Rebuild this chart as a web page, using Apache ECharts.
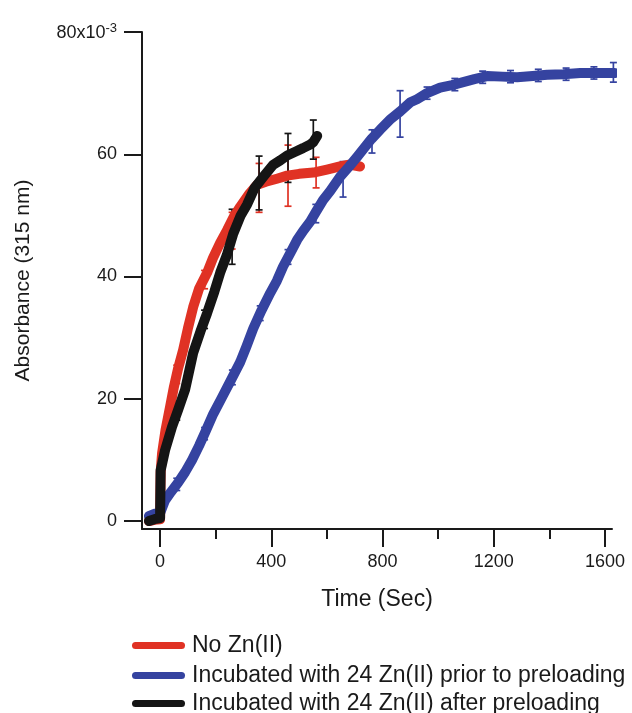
<!DOCTYPE html>
<html><head><meta charset="utf-8">
<script src="https://cdn.jsdelivr.net/npm/echarts@6/dist/echarts.min.js"></script>
<style>html,body{margin:0;padding:0;background:#fff}#c{width:632px;height:713px}</style>
</head><body><div id="c"></div>
<script>
const seriesNames = ['No Zn(II)', 'Incubated with 24 Zn(II) prior to preloading', 'Incubated with 24 Zn(II) after preloading'];
const seriesColors = ['#e03224', '#3543a0', '#151515'];
const xTicks = [0, 400, 800, 1200, 1600];
const xMinorTicks = [200, 600, 1000, 1400];
const yTicks = [0, 20, 40, 60, 80];

// [time (s), absorbance x10^-3]
const redData = [[-40,0],[-20,0.2],[0,0.3],[2,8],[7,11],[20,15],[36,18.7],[50,22],[65,25],[83,28],[100,31.5],[119,35],[140,38],[169,40.6],[190,43],[216,45.5],[241,47.6],[265,49.8],[288,51.4],[320,53.5],[349,55],[380,55.5],[420,56],[457,56.5],[500,56.8],[551,57],[600,57.5],[647,58],[680,58.3],[719,58]];
const blueData = [[-40,0.8],[-20,1.2],[0,1.3],[18,3.4],[40,4.8],[65,6.3],[90,8],[115,10],[140,12.3],[162,14.5],[191,17.5],[220,20],[252,22.8],[288,26],[310,28.5],[335,31.5],[365,34.5],[396,37.3],[420,39.3],[442,41.6],[470,44],[493,46],[515,47.5],[540,49],[562,50.7],[586,52.5],[612,54],[647,56.3],[680,58],[709,59.6],[730,60.8],[760,62.5],[791,64],[830,65.8],[863,67],[900,68.5],[924,69],[960,70],[1007,70.9],[1050,71.3],[1090,71.8],[1130,72.3],[1176,72.8],[1230,72.7],[1284,72.6],[1340,72.8],[1392,73],[1450,73.1],[1511,73.3],[1570,73.3],[1635,73.3]];
const blackData = [[-40,0],[-20,0.3],[0,0.5],[2,8.3],[18,11.6],[43,15.4],[65,18.2],[90,21.5],[119,27.5],[145,31],[169,34],[195,37.5],[216,40.6],[240,43.5],[263,47],[290,50],[313,51.8],[340,54.5],[371,56.3],[407,58.3],[432,59],[457,59.8],[490,60.5],[514,61],[540,61.6],[551,62],[565,63]];

// [time, value, error]
const redErr = [[60,24,1.5],[160,39.5,1.5],[259,47.5,3],[356,54.5,4],[460,56.5,5],[561,57,2.5]];
const blueErr = [[60,6,1],[160,14.3,1],[260,23.5,1.2],[360,34,1.2],[460,43.2,1.2],[560,50.3,1.5],[658,55.9,2.9],[762,62.1,1.9],[863,66.6,3.8],[960,70,1],[1060,71.4,1],[1160,72.6,1],[1260,72.7,1],[1360,72.9,1],[1460,73.1,1],[1560,73.3,1],[1630,73.4,1.6]];
const blackErr = [[60,17.5,1],[160,33,1.5],[259,46.5,4.5],[356,55.3,4.4],[460,59.4,4],[551,62.4,3.2]];

const FONT = "'Liberation Sans', Arial, Helvetica, sans-serif";
const INK = '#1a1a1a';
const chart = echarts.init(document.getElementById('c'), null, {renderer: 'canvas'});

function lineSeries(name, data, color) {
  return {
    name, type: 'line', data, color, showSymbol: false, symbol: 'none', clip: false,
    lineStyle: {width: 10, color, cap: 'round', join: 'round'},
    itemStyle: {color}
  };
}
function errSeries(name, data, color) {
  return {
    name, type: 'custom', data, clip: false,
    encode: {x: 0, y: 1},
    renderItem: function (params, api) {
      const x = api.value(0), y = api.value(1), e = api.value(2);
      const t = api.coord([x, y + e]);
      const b = api.coord([x, y - e]);
      const w = 3.5;
      const st = {stroke: color, lineWidth: 1.7, fill: null};
      return {type: 'group', children: [
        {type: 'line', shape: {x1: t[0], y1: t[1], x2: b[0], y2: b[1]}, style: st},
        {type: 'line', shape: {x1: t[0]-w, y1: t[1], x2: t[0]+w, y2: t[1]}, style: st},
        {type: 'line', shape: {x1: b[0]-w, y1: b[1], x2: b[0]+w, y2: b[1]}, style: st}
      ]};
    }
  };
}

const capsule = 'path://M3.5,0 H49.5 A3.5,3.5 0 0 1 49.5,7 H3.5 A3.5,3.5 0 0 1 3.5,0 Z';
const legendTops = [634, 664, 692];
const legends = seriesNames.map(function (n, i) {
  return {
    data: [n], orient: 'vertical', left: 132, top: legendTops[i], padding: 0,
    itemWidth: 53, itemHeight: 7, icon: capsule,
    textStyle: {fontSize: 23, color: INK, fontFamily: FONT, padding: [0, 0, 0, 2]},
    selectedMode: false
  };
});

chart.setOption({
  animation: false,
  backgroundColor: '#fff',
  textStyle: {fontFamily: FONT},
  grid: {left: 142, right: 20, top: 32, bottom: 184, containLabel: false},
  legend: legends,
  xAxis: [{
    type: 'value', min: -65, max: 1625,
    name: 'Time (Sec)', nameLocation: 'middle', nameGap: 59,
    nameTextStyle: {fontSize: 23, color: INK, fontFamily: FONT},
    axisLine: {show: true, onZero: false, lineStyle: {color: INK, width: 2}},
    axisTick: {show: true, customValues: xTicks, length: 18, lineStyle: {color: INK, width: 2}},
    axisLabel: {show: true, customValues: xTicks, margin: 24, fontSize: 18, color: INK, fontFamily: FONT,
      formatter: function (v) { return String(v); }},
    splitLine: {show: false}
  }, {
    type: 'value', min: -65, max: 1625, position: 'bottom',
    axisLine: {show: false, onZero: false},
    axisTick: {show: true, customValues: xMinorTicks, length: 10, lineStyle: {color: INK, width: 2}},
    axisLabel: {show: false},
    splitLine: {show: false}
  }],
  yAxis: {
    type: 'value', min: -1.3, max: 80,
    name: 'Absorbance (315 nm)', nameLocation: 'middle', nameGap: 108, nameRotate: 90,
    nameTextStyle: {fontSize: 21, color: INK, fontFamily: FONT},
    axisLine: {show: true, onZero: false, lineStyle: {color: INK, width: 2}},
    axisTick: {show: true, customValues: yTicks, length: 18, lineStyle: {color: INK, width: 2}},
    axisLabel: {
      show: true, customValues: yTicks, margin: 25, fontSize: 18, color: INK, fontFamily: FONT,
      formatter: function (v) { return v === 80 ? '{a|80x10}{b|-3}' : String(v); },
      rich: {
        a: {fontSize: 18, fontFamily: FONT, color: INK, lineHeight: 20, verticalAlign: 'bottom'},
        b: {fontSize: 13, fontFamily: FONT, color: INK, lineHeight: 13, verticalAlign: 'top'}
      }
    },
    splitLine: {show: false}
  },
  series: [
    lineSeries(seriesNames[0], redData, seriesColors[0]),
    errSeries('errRed', redErr, seriesColors[0]),
    lineSeries(seriesNames[1], blueData, seriesColors[1]),
    errSeries('errBlue', blueErr, seriesColors[1]),
    lineSeries(seriesNames[2], blackData, seriesColors[2]),
    errSeries('errBlack', blackErr, seriesColors[2])
  ]
});
</script>
</body></html>
